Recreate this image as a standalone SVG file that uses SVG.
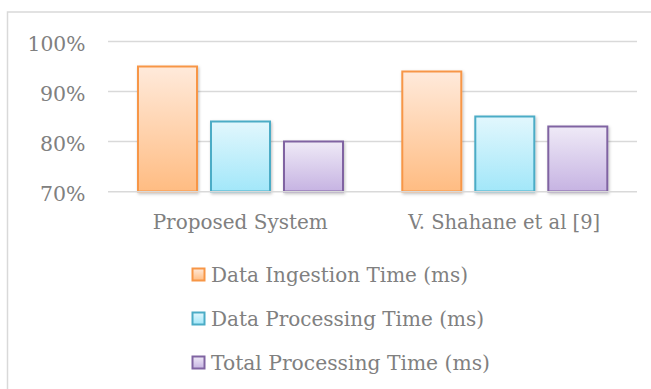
<svg xmlns="http://www.w3.org/2000/svg" width="651" height="389" viewBox="0 0 651 389">
<defs>
<linearGradient id="gO" x1="0" y1="0" x2="0" y2="1"><stop offset="0" stop-color="#FFEADB"/><stop offset="1" stop-color="#FFBC82"/></linearGradient>
<linearGradient id="gC" x1="0" y1="0" x2="0" y2="1"><stop offset="0" stop-color="#E2F7FD"/><stop offset="1" stop-color="#A2E7F9"/></linearGradient>
<linearGradient id="gP" x1="0" y1="0" x2="0" y2="1"><stop offset="0" stop-color="#EFEAF7"/><stop offset="1" stop-color="#C6B3E2"/></linearGradient>
<filter id="sh" x="-20%" y="-20%" width="140%" height="140%"><feDropShadow dx="1" dy="1.5" stdDeviation="1.5" flood-color="#000" flood-opacity="0.25"/></filter>
</defs>
<style>
text{font-family:"DejaVu Serif","Liberation Serif",serif;fill:#808080;font-size:20px}
.grid{stroke:#D9D9D9;stroke-width:1.6;fill:none}
.o{fill:url(#gO);stroke:#F79646;stroke-width:2}
.c{fill:url(#gC);stroke:#4BACC6;stroke-width:2}
.p{fill:url(#gP);stroke:#8064A2;stroke-width:2}
.bar{filter:url(#sh)}
.yl{text-anchor:end;font-size:20.5px}
.cl{text-anchor:middle}
</style>
<rect x="0" y="0" width="651" height="389" fill="#fff"/>
<rect id="frame" x="7.5" y="12" width="700" height="420" fill="#fff" stroke="#D9D9D9" stroke-width="1.5"/>
<g id="gridlines">
<line class="grid" x1="108" y1="41.5" x2="637" y2="41.5"/>
<line class="grid" x1="108" y1="91.5" x2="637" y2="91.5"/>
<line class="grid" x1="108" y1="141.5" x2="637" y2="141.5"/>
</g>
<g id="y-axis">
<text class="yl" x="85.5" y="51" textLength="58" lengthAdjust="spacingAndGlyphs">100%</text>
<text class="yl" x="85.5" y="101">90%</text>
<text class="yl" x="85.5" y="151">80%</text>
<text class="yl" x="85.5" y="201">70%</text>
</g>
<g id="series-ingestion">
<rect class="o bar" x="138" y="66.5" width="59" height="125"/>
<rect class="o bar" x="402.3" y="71.5" width="59" height="120"/>
</g>
<g id="series-processing">
<rect class="c bar" x="211" y="121.5" width="59" height="70"/>
<rect class="c bar" x="475.3" y="116.5" width="59" height="75"/>
</g>
<g id="series-total">
<rect class="p bar" x="284" y="141.5" width="59" height="50"/>
<rect class="p bar" x="548.3" y="126.5" width="59" height="65"/>
</g>
<g id="x-axis">
<line class="grid" x1="108" y1="191.8" x2="637" y2="191.8"/>
<text class="cl" x="240.2" y="229.3" textLength="175" lengthAdjust="spacingAndGlyphs">Proposed System</text>
<text class="cl" x="504.2" y="229.3" textLength="192" lengthAdjust="spacingAndGlyphs">V. Shahane et al [9]</text>
</g>
<g id="legend">
<g id="legend-ingestion"><rect class="o" x="192.5" y="268.5" width="12" height="12"/><text x="211" y="281.7" textLength="257" lengthAdjust="spacingAndGlyphs">Data Ingestion Time (ms)</text></g>
<g id="legend-processing"><rect class="c" x="192.5" y="312.5" width="12" height="12"/><text x="211" y="325.7" textLength="273" lengthAdjust="spacingAndGlyphs">Data Processing Time (ms)</text></g>
<g id="legend-total"><rect class="p" x="192.5" y="356.5" width="12" height="12"/><text x="211" y="369.7" textLength="279" lengthAdjust="spacingAndGlyphs">Total Processing Time (ms)</text></g>
</g>
</svg>
